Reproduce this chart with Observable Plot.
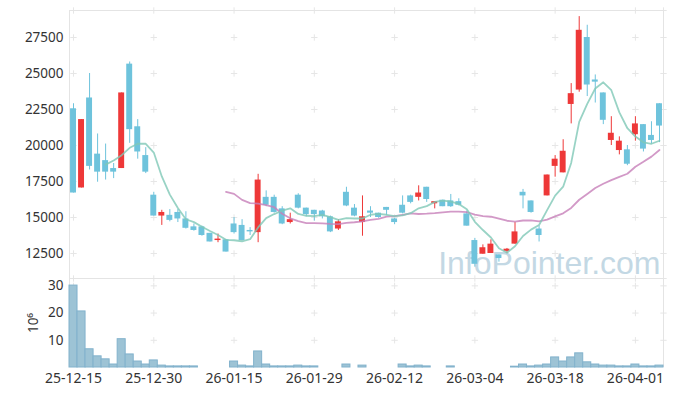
<!DOCTYPE html>
<html><head><meta charset="utf-8">
<script src="https://cdn.jsdelivr.net/npm/d3@7"></script>
<script src="https://cdn.jsdelivr.net/npm/@observablehq/plot@0.6"></script>
<style>
body{margin:0;background:#fff;}
#chart svg{display:block;}
</style></head><body><div id="chart"></div>
<script>
const dates = ["25-12-15","25-12-16","25-12-17","25-12-18","25-12-19","25-12-22","25-12-23","25-12-24","25-12-26","25-12-29",
"25-12-30","26-01-02","26-01-05","26-01-06","26-01-07","26-01-08","26-01-09","26-01-12","26-01-13","26-01-14",
"26-01-15","26-01-16","26-01-19","26-01-20","26-01-21","26-01-22","26-01-23","26-01-26","26-01-27","26-01-28",
"26-01-29","26-01-30","26-02-02","26-02-03","26-02-04","26-02-05","26-02-06","26-02-09","26-02-10","26-02-11",
"26-02-12","26-02-13","26-02-19","26-02-20","26-02-23","26-02-24","26-02-25","26-02-26","26-02-27","26-03-03",
"26-03-04","26-03-05","26-03-06","26-03-09","26-03-10","26-03-11","26-03-12","26-03-13","26-03-16","26-03-17",
"26-03-18","26-03-19","26-03-20","26-03-23","26-03-24","26-03-25","26-03-26","26-03-27","26-03-30","26-03-31",
"26-04-01","26-04-02","26-04-03","26-04-06"];
const opens = [22550,17050,23300,19400,18950,18400,18400,25650,21300,19300,
16550,15100,15150,15350,14900,14350,14350,13900,13400,13450,
14550,14450,14100,13950,16400,16400,15600,14650,16550,15650,
15500,15450,15050,14200,16750,15650,14650,15450,15300,15700,
14900,15850,16500,16400,17100,15950,16200,16150,16100,15250,
13400,12450,12500,12400,12650,13150,16750,16150,14200,16500,
18550,18100,22850,23850,27500,24550,23650,20350,19650,19700,
20750,21450,20700,22900];
const highs = [22900,21800,25000,20800,20100,18750,23650,25800,21800,19850,
16750,15500,15550,15550,15400,14550,14400,13900,13850,13450,
15000,14850,14300,18000,16850,16550,15750,15300,16650,15650,
15500,15500,15100,14850,17100,15900,16500,15750,15300,15700,
14950,16500,16550,17200,17100,16100,16200,16600,16300,15450,
13550,13100,13450,12400,12850,14650,16950,16150,14400,17950,
19300,20400,24300,28950,28350,24900,23650,22000,20600,20000,
22000,21450,21650,22900];
const lows = [16700,17050,18300,17450,17600,17700,18400,20150,19050,18050,
15100,14450,14700,14650,14200,14050,13700,13300,13250,12600,
13850,13350,13750,13250,15750,15300,14500,14550,15600,15050,
14750,14900,13950,14100,15750,15050,13700,15000,14950,15150,
14500,15250,15950,16150,16050,15600,15750,15700,15800,14400,
11550,12450,12500,11900,12500,13150,15600,15300,13300,16500,
17800,18100,21500,23700,23400,22950,21450,20000,19350,18600,
20300,19550,20100,20200];
const closes = [16700,21800,18550,18150,18150,18150,23650,21100,19550,18150,
15100,15350,14800,14900,14250,14100,13750,13300,13500,12600,
13950,13400,14000,17600,15850,15350,14550,14850,15650,15200,
15200,15050,14000,14700,15800,15100,15050,15300,15000,15500,
14650,15300,16050,16700,16250,16100,15750,15750,15850,14400,
11750,12900,13150,12150,12800,14000,16500,15350,13750,17950,
19050,19600,23600,28000,24200,24400,21750,20850,20300,18700,
21500,19750,20350,21350];
// volume in millions of shares
const volumes = [30.1,20.6,6.7,4.1,3.0,1.1,10.4,4.8,2.2,1.1,
2.6,0.7,0.4,0.4,0.4,0.4,0,0,0,0,
2.2,0.7,0.4,5.9,1.1,0.4,0.4,0.4,0.7,0.4,
0.4,0,0,0,1.1,0,0.7,0,0,0,
0,1.1,0.4,0.7,0.4,0,0,0.4,0,0,
0,0,0,0,0,0.3,1.1,0.4,0.7,1.1,
3.7,2.2,3.7,5.2,1.9,1.1,0.7,0.7,0.4,0.4,
1.1,0.4,0.4,0.7];
const priceTicks = [12500,15000,17500,20000,22500,25000,27500];
const volumeTicks = [10,20,30];
const dateTickIndex = [0,10,20,30,40,50,60,70];
const maShort = 5, maLong = 20;
const watermark = "InfoPointer.com";

const UP = "#ee3838", DOWN = "#6ec3dc";
const rows = dates.map((d,i)=>({i, date:d, open:opens[i], high:highs[i], low:lows[i], close:closes[i], volume:volumes[i]}));
const upRows = rows.filter(r=>r.close>=r.open), downRows = rows.filter(r=>r.close<r.open);
function sma(n){ const out=[]; for(let i=n-1;i<closes.length;i++) out.push({i, v:d3.mean(closes.slice(i-n+1,i+1))}); return out; }
const ma5 = sma(maShort), ma20 = sma(maLong);

const xDomain = [-0.5, dates.length-0.5];
const pDomain = [10764, 29375];
const vDomain = [0, 32.7];
const gridX = [...dateTickIndex, xDomain[1]];
const priceCross = gridX.flatMap(x=>[...priceTicks, pDomain[1]].map(y=>({x,y})));
const volCross = gridX.flatMap(x=>[...volumeTicks, vDomain[1]].map(y=>({x,y})));
const font = "'Noto Sans', 'DejaVu Sans', sans-serif";
const GRID = "#e6e6e6", FRAME = "#e4e4e4";

const price = Plot.plot({
  width:676, height:278, marginTop:10, marginBottom:0, marginLeft:69, marginRight:13,
  style:{fontFamily:font, fontSize:"13px", color:"#333", background:"#fff", overflow:"visible"},
  x:{domain:xDomain, axis:null},
  y:{domain:pDomain, axis:null},
  marks:[
    Plot.dot(priceCross, {x:"x", y:"y", symbol:"plus", r:2.2, stroke:GRID, strokeWidth:1}),
    Plot.frame({stroke:FRAME}),
    Plot.text([watermark], {frameAnchor:"bottom-right", textAnchor:"end", dx:-3, dy:-5, fontSize:32, fill:"#c3d8e4", fontFamily:"'Liberation Sans', Arial, sans-serif"}),
    Plot.ruleX(upRows, {x:"i", y1:"low", y2:"high", stroke:UP, strokeWidth:1}),
    Plot.ruleX(downRows, {x:"i", y1:"low", y2:"high", stroke:DOWN, strokeWidth:1}),
    Plot.rect(upRows, {x1:d=>d.i-0.37, x2:d=>d.i+0.37, y1:"open", y2:"close", fill:UP}),
    Plot.rect(downRows, {x1:d=>d.i-0.37, x2:d=>d.i+0.37, y1:"open", y2:"close", fill:DOWN}),
    Plot.line(ma20, {x:"i", y:"v", stroke:"#c77fb9", strokeOpacity:0.8, strokeWidth:1.8}),
    Plot.line(ma5, {x:"i", y:"v", stroke:"#7fc8b6", strokeOpacity:0.8, strokeWidth:1.8}),
    Plot.axisY(priceTicks, {tickSize:0, tickPadding:6, label:null, fontSize:13.5, tickFormat:d3.format("d")})
  ]
});

const volume = Plot.plot({
  width:676, height:118, marginTop:0, marginBottom:29, marginLeft:69, marginRight:13,
  style:{fontFamily:font, fontSize:"13px", color:"#333", background:"#fff", overflow:"visible"},
  x:{domain:xDomain, axis:null},
  y:{domain:vDomain, axis:null},
  marks:[
    Plot.dot(volCross, {x:"x", y:"y", symbol:"plus", r:2.2, stroke:GRID, strokeWidth:1}),
    Plot.ruleY([vDomain[1]], {stroke:FRAME}),
    Plot.ruleX(xDomain, {stroke:FRAME}),
    Plot.rect(rows, {x1:d=>d.i-0.5, x2:d=>d.i+0.5, y1:0, y2:"volume", fill:"#9dc3d5", stroke:"#82b2cc", strokeWidth:1}),
    Plot.axisY(volumeTicks, {tickSize:0, tickPadding:6, label:"10⁶", labelAnchor:"center", labelArrow:"none", labelOffset:41, fontSize:13.5, tickFormat:d3.format("d")}),
    Plot.axisX(dateTickIndex, {tickSize:0, tickPadding:6, tickFormat:i=>dates[i], label:null, fontSize:14})
  ]
});

document.getElementById("chart").append(price, volume);
</script></body></html>
